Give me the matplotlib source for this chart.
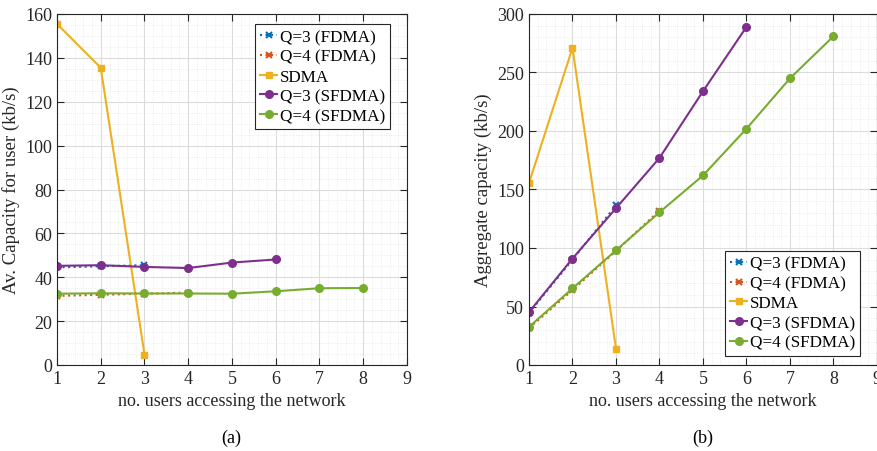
import matplotlib
matplotlib.use("Agg")
import matplotlib.pyplot as plt
from matplotlib.ticker import MultipleLocator

plt.rcParams['font.family'] = ['Liberation Serif', 'DejaVu Serif']
plt.rcParams['mathtext.fontset'] = 'stix'

# Data
x_q3f = [1, 2, 3]
x_q4f = [1, 2, 3, 4]
x_sdma = [1, 2, 3]
x_q3s = [1, 2, 3, 4, 5, 6]
x_q4s = [1, 2, 3, 4, 5, 6, 7, 8]

avg_q3f = [44.5, 45.0, 45.5]
avg_q4f = [31.5, 32.0, 32.5, 33.0]
avg_sdma = [155.5, 135.5, 4.7]
avg_q3s = [45.2, 45.5, 44.7, 44.2, 46.7, 48.1]
avg_q4s = [32.5, 32.7, 32.6, 32.6, 32.5, 33.6, 35.0, 35.1]

agg_q3f = [44.5, 90.0, 136.5]
agg_q4f = [31.5, 64.0, 97.5, 132.0]
agg_sdma = [155.5, 271.0, 14.0]
agg_q3s = [45.2, 91.0, 134.0, 177.0, 234.0, 289.0]
agg_q4s = [32.5, 65.5, 98.0, 130.5, 162.0, 202.0, 245.0, 281.0]

labels = ['Q=3 (FDMA)', 'Q=4 (FDMA)', 'SDMA', 'Q=3 (SFDMA)', 'Q=4 (SFDMA)']
colors = ['#0072BD', '#D95319', '#EDB120', '#7E2F8E', '#77AC30']
xticks = [1, 2, 3, 4, 5, 6, 7, 8, 9]

fig = plt.figure(figsize=(8.78, 4.52), dpi=100)
ax1 = fig.add_axes([57/878, 1-366/452, 350/878, 351/452])
ax2 = fig.add_axes([529/878, 1-366/452, 348/878, 351/452])

def draw(ax, data, ymax, ymaj, ymin, ylabel, legloc, bbox):
    xs = [x_q3f, x_q4f, x_sdma, x_q3s, x_q4s]
    styles = [dict(ls=':', marker='x', ms=4, mew=1.5),
              dict(ls=':', marker='x', ms=4, mew=1.5),
              dict(ls='-', marker='s', ms=4),
              dict(ls='-', marker='o', ms=5.5),
              dict(ls='-', marker='o', ms=5.5)]
    for x, y, lab, c, st in zip(xs, data, labels, colors, styles):
        ax.plot(x, y, color=c, lw=1.5, label=lab, **st)
    ax.set_xlim(1, 9)
    ax.set_ylim(0, ymax)
    ax.set_xticks(xticks)
    ax.yaxis.set_major_locator(MultipleLocator(ymaj))
    ax.xaxis.set_minor_locator(MultipleLocator(0.2))
    ax.yaxis.set_minor_locator(MultipleLocator(ymin))
    ax.grid(True, which='major', color='#dcdcdc', lw=0.8)
    ax.grid(True, which='minor', color='#e6e6e6', lw=0.6, ls=':')
    ax.set_axisbelow(True)
    ax.tick_params(which='both', direction='in', top=True, right=True, labelsize=13, colors='#262626')
    ax.tick_params(which='minor', length=0)
    ax.tick_params(which='major', length=5)
    for s in ax.spines.values():
        s.set_color('#262626')
        s.set_linewidth(0.8)
    ax.set_xlabel('no. users accessing the network', fontsize=13, color='#262626')
    ax.set_ylabel(ylabel, fontsize=13.5, color='#262626')
    leg = ax.legend(loc=legloc, bbox_to_anchor=bbox, fontsize=12.3, fancybox=False,
                    framealpha=1, edgecolor='#262626', handlelength=1.0,
                    handletextpad=0.15, borderpad=0.3, labelspacing=0.22, borderaxespad=0)
    leg.get_frame().set_linewidth(0.8)

draw(ax1, [avg_q3f, avg_q4f, avg_sdma, avg_q3s, avg_q4s], 160, 20, 5,
     'Av. Capacity for user (kb/s)', 'upper right', ((390-57)/350, (366-25)/351))
draw(ax2, [agg_q3f, agg_q4f, agg_sdma, agg_q3s, agg_q4s], 300, 50, 10,
     'Aggregate capacity (kb/s)', 'lower right', ((860-529)/348, (366-357)/351))

fig.text(231/878, 1-438/452, '(a)', ha='center', va='center', fontsize=13)
fig.text(703/878, 1-438/452, '(b)', ha='center', va='center', fontsize=13)

fig.savefig('out.png', dpi=100)
